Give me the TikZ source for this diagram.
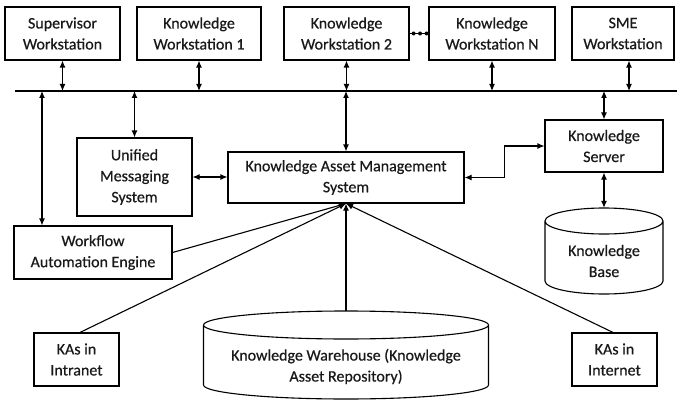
\documentclass[tikz,border=0pt]{standalone}
\usepackage{fontspec}
\setmainfont{Carlito}[FakeBold=0.5]
\usetikzlibrary{arrows.meta,calc}
\begin{document}
\begin{tikzpicture}[x=1pt,y=1pt,
  every node/.style={font=\fontsize{16}{21}\selectfont, text=black!90},
  box/.style={draw, line width=1.1pt, align=center, inner sep=0pt, fill=white},
  shell/.style={inner sep=0pt, draw=none},
  cyl/.style={draw, line width=1.1pt, fill=white},
  link/.style={line width=1.1pt, -{Latex[length=7pt,width=6pt]}},
  dlink/.style={line width=1.1pt, {Latex[length=7pt,width=6pt]}-{Latex[length=7pt,width=6pt]}},
  ]
\useasboundingbox (0,0) rectangle (677,-401);

% workstations along the top
\node[box, minimum width=115, minimum height=53] (sup) at (62.5,-33.5) {Supervisor\\Workstation};
\node[box, minimum width=124, minimum height=53] (kw1) at (199,-33.5) {Knowledge\\Workstation 1};
\node[box, minimum width=125, minimum height=53] (kw2) at (346.5,-33.5) {Knowledge\\Workstation 2};
\node[box, minimum width=126, minimum height=53] (kwn) at (492,-33.5) {Knowledge\\Workstation N};
\node[box, minimum width=102, minimum height=53] (sme) at (623,-33.5) {SME\\Workstation};

% shared bus
\coordinate (busL) at (15,-91);
\coordinate (busR) at (677,-91);
\draw[line width=1.1pt] (busL) -- (busR);

% middle tier
\node[box, minimum width=115, minimum height=78] (ums) at (134.5,-177) {Unified\\Messaging\\System};
\node[box, minimum width=236, minimum height=51] (kams) at (346,-177.5) {Knowledge Asset Management\\System};
\node[box, minimum width=118, minimum height=52] (ks) at (604,-146) {Knowledge\\Server};
\node[box, minimum width=158, minimum height=53] (wae) at (93,-252.5) {Workflow\\Automation Engine};

% knowledge base cylinder
\node[shell, minimum width=118, minimum height=86] (kb) at (604,-251) {};
\draw[cyl] (545,-221) -- (545,-281)
  arc[start angle=180, end angle=360, x radius=59, y radius=13] -- (663,-221)
  arc[start angle=0, end angle=180, x radius=59, y radius=13]
  arc[start angle=180, end angle=360, x radius=59, y radius=13];
\node[align=center] (kbtext) at (604,-261) {Knowledge\\Base};

% bottom tier
\node[box, minimum width=85, minimum height=53] (intra) at (76.5,-359.5) {KAs in\\Intranet};
\node[box, minimum width=85, minimum height=53] (inter) at (614.5,-359.5) {KAs in\\Internet};

% knowledge warehouse cylinder
\node[shell, minimum width=285, minimum height=88] (wh) at (346,-355) {};
\draw[cyl] (203.5,-325) -- (203.5,-385)
  arc[start angle=180, end angle=360, x radius=142.5, y radius=14] -- (488.5,-325)
  arc[start angle=0, end angle=180, x radius=142.5, y radius=14]
  arc[start angle=180, end angle=360, x radius=142.5, y radius=14];
\node[align=center] (whtext) at (346,-366.5) {Knowledge Warehouse (Knowledge\\Asset Repository)};

% workstation links to the bus
\draw[dlink] (sup.south) -- (sup.south |- busL);
\draw[dlink] (kw1.south) -- (kw1.south |- busL);
\draw[dlink] (kw2.south) -- (kw2.south |- busL);
\draw[dlink] (kwn.south) -- (kwn.south |- busL);
\draw[dlink] ([xshift=6pt]sme.south) -- ([xshift=6pt]sme.south |- busL);

% dotted continuation between workstation 2 and N
\draw[line width=1.1pt] (kw2.east) -- (kwn.west);
\foreach \dx in {4,10.5,17}
  \fill ($(kw2.east)+(\dx,0)$) circle[radius=2];

% bus links to the middle tier
\coordinate (wtap) at (42,-91);
\draw[dlink] (wtap) -- (wtap |- wae.north);
\draw[dlink] (ums.north |- busL) -- (ums.north);
\draw[dlink] (kams.north |- busL) -- (kams.north);
\draw[dlink] (ks.north |- busL) -- (ks.north);

% links between middle-tier systems
\draw[dlink] (ums.east) -- (ums.east -| kams.west);
\draw[dlink] (kams.east) -- ++(40,0) |- (ks.west);
\draw[dlink] (ks.south) -- (kb.north);

% sources feeding the asset management system
\draw[link] (wae.east) -- (kams.south);
\draw[link] ([xshift=3.5pt]intra.north) -- (kams.south);
\draw[link] (wh.north) -- (kams.south);
\draw[link] ([xshift=-1.5pt]inter.north) -- (kams.south);
\end{tikzpicture}
\end{document}
